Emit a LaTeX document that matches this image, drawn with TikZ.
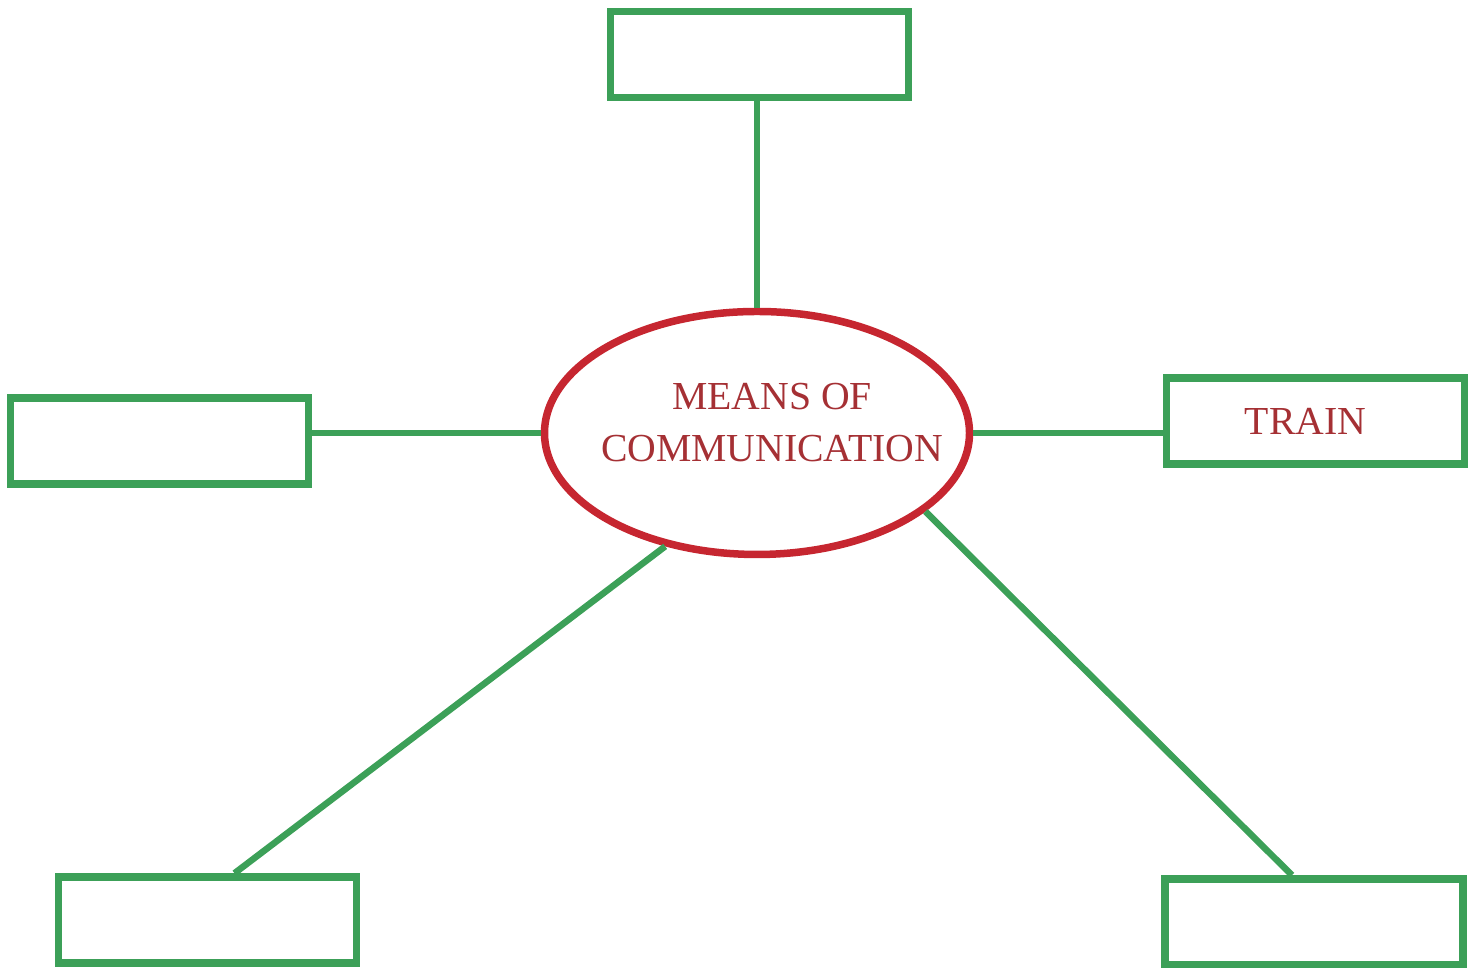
\documentclass[tikz,border=0pt]{standalone}
\usepackage{fontspec}
\setmainfont{Liberation Serif}
\usepackage{tikz}
\usetikzlibrary{shapes.geometric}
\definecolor{boxgreen}{RGB}{60,160,88}
\definecolor{ovalred}{RGB}{198,38,48}
\definecolor{textred}{RGB}{165,48,52}

\begin{document}
\begin{tikzpicture}[
    box/.style={draw=boxgreen, line width=0.075cm, rectangle, minimum width=2.98cm, minimum height=0.86cm,
        text=textred, font=\fontsize{11.3}{14.8}\selectfont},
    oval/.style={draw=ovalred, line width=0.075cm, ellipse, minimum width=4.25cm, minimum height=2.43cm, inner sep=0pt},
    link/.style={draw=boxgreen, line width=0.065cm}
]
\useasboundingbox (0,0) rectangle (14.75,9.68);
\node[oval] (means) at (7.57,5.35) {};
\node[text=textred, align=center, font=\fontsize{11.3}{14.8}\selectfont] (meanstext) at (7.72,5.45) {MEANS OF\\COMMUNICATION};
\node[box] (top) at (7.595,9.135) {};
\node[box] (left) at (1.595,5.27) {};
\node[box] (train) at (13.155,5.47) {\hspace{-0.2cm}TRAIN};
\node[box] (botleft) at (2.075,0.48) {};
\node[box] (botright) at (13.14,0.46) {};
% connectors
\draw[link] (means.north) -- (means.north |- top.south);
\draw[link] (means.west) -- (means.west -| left.east);
\draw[link] (means.east) -- (means.east -| train.west);
\draw[link] (means.231.5) -- ([xshift=0.27cm]botleft.north);
\draw[link] (means.-25.2) -- ([xshift=-0.22cm]botright.north);
\end{tikzpicture}
\end{document}
